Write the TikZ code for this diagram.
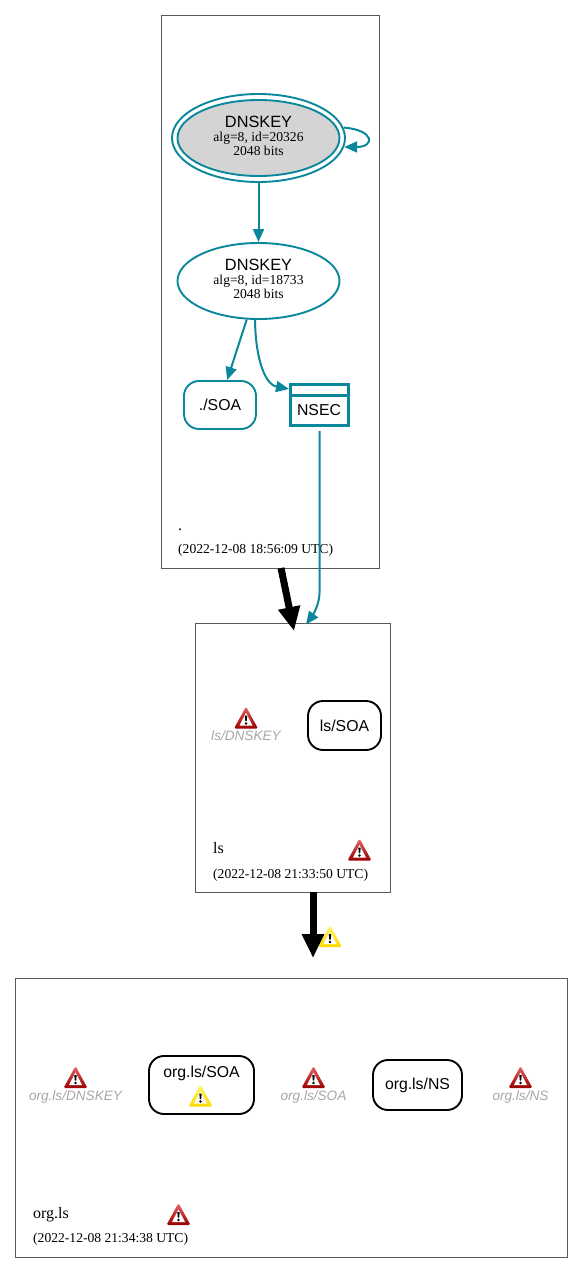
\documentclass[tikz,border=0pt]{standalone}
\usepackage{fontspec}
\setmainfont{Liberation Serif}
\setsansfont{Liberation Sans}
\usetikzlibrary{arrows.meta, shapes.geometric, calc}
\definecolor{keyteal}{HTML}{0A879A}
\tikzset{
  cluster/.style={draw=black!65,line width=0.9pt,inner sep=0pt},
  keynode/.style={ellipse,draw=keyteal,line width=1.9pt,inner sep=0pt,
    minimum width=162pt,minimum height=76pt},
  keytxt/.style={inner sep=0pt,align=center},
  rrset/.style={draw=#1,rounded corners=15pt,line width=1.9pt,inner sep=0pt,
    font=\sffamily\fontsize{15.8}{18}\selectfont,align=center},
  rrtxt/.style={inner sep=0pt,font=\sffamily\fontsize{15.8}{18}\selectfont},
  missing/.style={text=black!35,font=\sffamily\itshape\fontsize{13.6}{15}\selectfont},
  zonename/.style={anchor=base west,inner sep=0pt,font=\fontsize{16}{18}\selectfont},
  zonedate/.style={anchor=base west,inner sep=0pt,font=\fontsize{13.6}{15}\selectfont},
  keyedge/.style={draw=keyteal,line width=2pt,-{Triangle[length=13pt,width=11pt]}},
  deledge/.style={draw=black,line width=7pt,-{Triangle[length=24pt,width=21pt]}},
  warnicon/.style 2 args={inner sep=0pt,minimum width=24pt,minimum height=22pt,
    path picture={
      \shade[top color=#1!60!white,bottom color=#2,rounded corners=1.5pt]
        (0,-11) -- (12,11) -- (-12,11) -- cycle;
      \fill[white] (0,-4.5) -- (6.5,8) -- (-6.5,8) -- cycle;
      \fill[black] (-1.2,-2) -- (1.2,-2) -- (0.7,3.5) -- (-0.7,3.5) -- cycle;
      \fill[black] (0,6) circle (1.3);
    }},
  warnred/.style={warnicon={red!85!black}{red!60!black}},
  warnyellow/.style={warnicon={yellow!90!orange}{yellow!70!orange}},
}
\newcommand{\keytext}[2]{{\sffamily\fontsize{16.3}{16}\selectfont DNSKEY}\\[2pt]
  {\fontsize{13.6}{14}\selectfont alg=8, id=#1}\\[1pt]
  {\fontsize{13.6}{14}\selectfont #2 bits}}
\begin{document}
\begin{tikzpicture}[x=1pt,y=-1pt]
  \useasboundingbox (0,0) rectangle (584,1273);
  % zones
  \node[cluster,minimum width=218pt,minimum height=553pt] (rootzone) at (270.5,292) {};
  \node[cluster,minimum width=194.5pt,minimum height=269pt] (lszone) at (292.75,758) {};
  \node[cluster,minimum width=552pt,minimum height=279pt] (orgzone) at (291.5,1117.5) {};

  % root zone
  \node[keynode,fill=black!17] (ksk) at (258.5,138) {};
  \node[keytxt] (ksktext) at (258.5,136) {\keytext{20326}{2048}};
  \node[ellipse,draw=keyteal,line width=1.9pt,inner sep=0pt,
    minimum width=173pt,minimum height=88pt] (kskouter) at (258.5,138) {};
  \node[keynode] (zsk) at (258.5,281) {};
  \node[keytxt] (zsktext) at (258.5,279) {\keytext{18733}{2048}};
  \node[rrset=keyteal,minimum width=72pt,minimum height=48pt] (rootsoa) at (220,405) {./SOA};
  \node[draw=keyteal,line width=3pt,inner sep=0pt,minimum width=58pt,minimum height=41pt] (nsec) at (319.5,405) {};
  \node[rrtxt] (nsectext) at (319,410) {NSEC};
  \draw[keyteal,line width=3pt] ($(nsec.north west)+(0,12)$) -- ($(nsec.north east)+(0,12)$);
  \node[zonename] (rootname) at (178,530) {.};
  \node[zonedate] (rootdate) at (178,553.5) {(2022-12-08 18:56:09 UTC)};

  % ls zone
  \node[warnred] (lskeywarn) at (246,717.5) {};
  \node[missing] (lskey) at (246,736) {ls/DNSKEY};
  \node[rrset=black,minimum width=73pt,minimum height=49pt] (lssoa) at (344.5,725.5) {ls/SOA};
  \node[zonename] (lsname) at (213,853.5) {ls};
  \node[warnred] (lswarn) at (359.5,849.5) {};
  \node[zonedate] (lsdate) at (213,878.5) {(2022-12-08 21:33:50 UTC)};

  % org.ls zone
  \node[warnred] (orgkeywarn) at (75.5,1077) {};
  \node[missing] (orgkey) at (75.5,1097) {org.ls/DNSKEY};
  \node[rrset=black,minimum width=105pt,minimum height=58pt] (orgsoa) at (201.5,1085) {};
  \node[rrtxt] (orgsoatext) at (201.5,1073.5) {org.ls/SOA};
  \node[warnyellow] (orgsoawarn) at (200.5,1095.5) {};
  \node[warnred] (soawarn) at (313.5,1077) {};
  \node[missing] (soamissing) at (313.5,1097) {org.ls/SOA};
  \node[rrset=black,minimum width=89pt,minimum height=50pt] (orgns) at (417.5,1085) {org.ls/NS};
  \node[warnred] (nswarn) at (520.5,1077) {};
  \node[missing] (nsmissing) at (520.5,1097) {org.ls/NS};
  \node[zonename] (orgname) at (33,1218) {org.ls};
  \node[warnred] (orgwarn) at (178.5,1214) {};
  \node[zonedate] (orgdate) at (33,1242.5) {(2022-12-08 21:34:38 UTC)};

  % free ends of the delegations
  \coordinate (roottail) at (281,568);
  \coordinate (lshead) at (294,631);
  \coordinate (lstail) at (313,892);
  \coordinate (orghead) at (313,958);
  \coordinate (lsentry) at (306,624.5);
  \node[warnyellow] (delwarn) at (330,936) {};

  % connectors
  \draw[keyedge] (kskouter.7) .. controls (375,130) and (375,147) .. (kskouter.-6);
  \draw[keyedge] (kskouter.south) -- (zsk.north);
  \draw[keyedge] (zsk.253) -- (rootsoa.74);
  \draw[keyedge] (zsk.265) .. controls ($(zsk.265)+(0,32)$) and (263,384) .. ([yshift=-6pt]nsec.north west);
  \draw[keyedge,rounded corners=13pt] ([yshift=-4pt]nsec.south) -- (319.5,606) -- (lsentry);
  \draw[deledge] (roottail) -- (lshead);
  \draw[deledge] (lstail) -- (orghead);
\end{tikzpicture}
\end{document}
